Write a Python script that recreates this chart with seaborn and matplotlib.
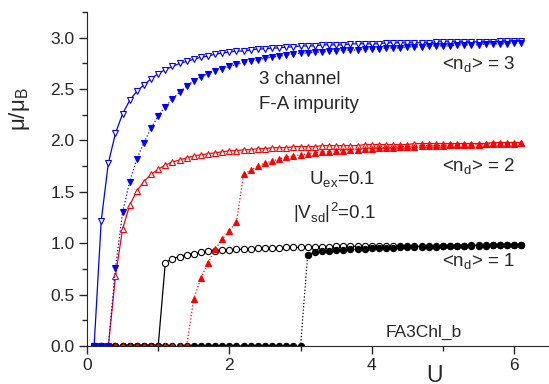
import seaborn as sns
import matplotlib.pyplot as plt
import numpy as np

# --- data (U from 0.1 to 6.1, step 0.1) ---
U = np.round(np.arange(1, 62) / 10, 1)

n3_open = [0.00, 1.22, 1.78, 2.07, 2.26, 2.39, 2.48, 2.54, 2.60, 2.65,
           2.69, 2.72, 2.75, 2.77, 2.79, 2.81, 2.82, 2.84, 2.85, 2.86,
           2.87, 2.87, 2.88, 2.89, 2.89, 2.90, 2.90, 2.91, 2.91, 2.92,
           2.92, 2.92, 2.93, 2.93, 2.93, 2.93, 2.94, 2.94, 2.94, 2.94,
           2.94, 2.95, 2.95, 2.95, 2.95, 2.95, 2.95, 2.95, 2.96, 2.96,
           2.96, 2.96, 2.96, 2.96, 2.96, 2.96, 2.96, 2.97, 2.97, 2.97, 2.97]
n3_fill = [0.00, 0.00, 0.00, 0.76, 1.30, 1.60, 1.82, 1.98, 2.12, 2.24,
           2.33, 2.40, 2.47, 2.53, 2.58, 2.62, 2.65, 2.68, 2.70, 2.72,
           2.74, 2.76, 2.77, 2.78, 2.80, 2.81, 2.82, 2.83, 2.84, 2.85,
           2.85, 2.86, 2.86, 2.87, 2.87, 2.88, 2.88, 2.88, 2.89, 2.89,
           2.89, 2.90, 2.90, 2.90, 2.91, 2.91, 2.91, 2.92, 2.92, 2.92,
           2.92, 2.93, 2.93, 2.93, 2.93, 2.94, 2.94, 2.94, 2.94, 2.95, 2.95]
n2_open = [0.00, 0.00, 0.00, 0.68, 1.14, 1.37, 1.51, 1.60, 1.67, 1.72,
           1.76, 1.79, 1.81, 1.83, 1.85, 1.86, 1.87, 1.88, 1.89, 1.90,
           1.90, 1.91, 1.91, 1.92, 1.92, 1.93, 1.93, 1.93, 1.94, 1.94,
           1.94, 1.94, 1.95, 1.95, 1.95, 1.95, 1.95, 1.95, 1.96, 1.96,
           1.96, 1.96, 1.96, 1.96, 1.96, 1.97, 1.97, 1.97, 1.97, 1.97,
           1.97, 1.97, 1.97, 1.97, 1.97, 1.97, 1.98, 1.98, 1.98, 1.98, 1.98]
n2_fill = [0.00, 0.00, 0.00, 0.00, 0.00, 0.00, 0.00, 0.00, 0.00, 0.00,
           0.00, 0.00, 0.00, 0.00, 0.46, 0.66, 0.81, 0.94, 1.04, 1.12,
           1.21, 1.67, 1.71, 1.75, 1.78, 1.80, 1.82, 1.84, 1.85, 1.86,
           1.87, 1.88, 1.89, 1.89, 1.90, 1.90, 1.91, 1.91, 1.92, 1.92,
           1.93, 1.93, 1.93, 1.94, 1.94, 1.94, 1.95, 1.95, 1.95, 1.95,
           1.96, 1.96, 1.96, 1.96, 1.96, 1.97, 1.97, 1.97, 1.97, 1.97, 1.98]
n1_open = [0.00, 0.00, 0.00, 0.00, 0.00, 0.00, 0.00, 0.00, 0.00, 0.00,
           0.81, 0.85, 0.87, 0.89, 0.90, 0.91, 0.92, 0.92, 0.93, 0.93,
           0.94, 0.94, 0.94, 0.95, 0.95, 0.95, 0.95, 0.96, 0.96, 0.96,
           0.96, 0.96, 0.96, 0.96, 0.97, 0.97, 0.97, 0.97, 0.97, 0.97,
           0.97, 0.97, 0.97, 0.97, 0.97, 0.97, 0.97, 0.97, 0.97, 0.97,
           0.97, 0.97, 0.97, 0.98, 0.98, 0.98, 0.98, 0.98, 0.98, 0.98, 0.98]
n1_fill = [0.00] * 30 + [
           0.89, 0.91, 0.92, 0.92, 0.93, 0.93, 0.94, 0.94, 0.94, 0.95,
           0.95, 0.95, 0.95, 0.96, 0.96, 0.96, 0.96, 0.96, 0.96, 0.97,
           0.97, 0.97, 0.97, 0.97, 0.97, 0.97, 0.98, 0.98, 0.98, 0.98, 0.98]

# (values, colour, marker, filled?, linestyle)
series = [
    (n1_open, "black", "o", False, "-"),
    (n1_fill, "black", "o", True, ":"),
    (n2_open, "red", "^", False, "-"),
    (n2_fill, "red", "^", True, ":"),
    (n3_open, "blue", "v", False, "-"),
    (n3_fill, "blue", "v", True, ":"),
]

# --- Styling ---
sns.set_style("ticks")
plt.rcParams["font.family"] = ["Liberation Sans", "DejaVu Sans"]
plt.rcParams["mathtext.fontset"] = "custom"
plt.rcParams["mathtext.rm"] = "Liberation Sans"

fig = plt.figure(figsize=(5.49, 3.84), dpi=100)
ax = fig.add_axes([87 / 549, 38 / 384, 462 / 549, 334 / 384])

for vals, col, mk, filled, ls in series:
    sns.lineplot(x=U, y=vals, ax=ax, color=col, linestyle=ls, linewidth=0.9,
                 marker=mk, markersize=4.5, markeredgewidth=0.8,
                 markeredgecolor=col, markerfacecolor=col if filled else "white",
                 sort=False, estimator=None)

ax.set_xlim(0, 6.49)
ax.set_ylim(0, 3.25)
ax.set_xticks([0, 2, 4, 6])
ax.set_xticks([1, 3, 5], minor=True)
ax.set_yticks(np.arange(0, 3.01, 0.5))
ax.set_yticks(np.arange(0.25, 3.3, 0.5), minor=True)
ax.set_yticklabels(["0.0", "0.5", "1.0", "1.5", "2.0", "2.5", "3.0"])
ax.tick_params(which="major", direction="out", length=6, width=1, labelsize=12.5, pad=3)
ax.tick_params(which="minor", direction="out", length=3.5, width=1)
sns.despine(ax=ax)

ax.set_xlabel("U", fontsize=16.5)
ax.xaxis.set_label_coords(0.753, -0.055)
ax.set_ylabel("μ/μ$_\\mathregular{B}$", fontsize=16)
ax.yaxis.set_label_coords(-0.12, 0.71)

# Annotations
fs = 13.5
ax.text(2.42, 2.59, "3 channel", fontsize=fs, va="center")
ax.text(2.42, 2.35, "F-A impurity", fontsize=fs, va="center")
ax.text(4.99, 2.69, "<n$_\\mathregular{d}$> = 3", fontsize=fs, va="baseline")
ax.text(4.99, 1.70, "<n$_\\mathregular{d}$> = 2", fontsize=fs, va="baseline")
ax.text(4.99, 0.77, "<n$_\\mathregular{d}$> = 1", fontsize=fs, va="baseline")
ax.text(3.12, 1.57, "U$_\\mathregular{ex}$=0.1", fontsize=fs, va="baseline")
ax.text(2.89, 1.24, "|V$_\\mathregular{sd}$|$^\\mathregular{2}$=0.1", fontsize=fs, va="baseline")
ax.text(4.19, 0.09, "FA3Chl_b", fontsize=12.5, va="baseline")

plt.savefig("out.png", dpi=100)
plt.close()
